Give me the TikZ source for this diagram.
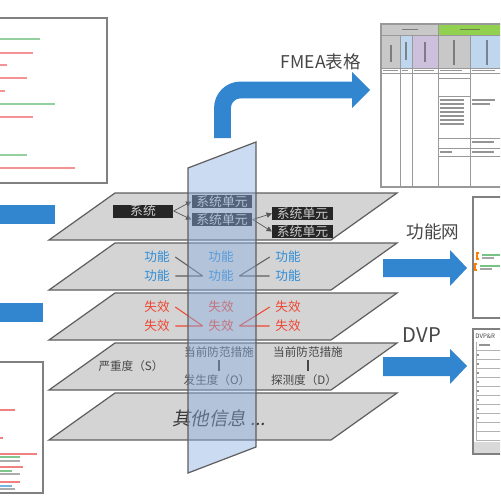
\documentclass[tikz,border=0pt]{standalone}
\usepackage{fontspec}
\setmainfont{Noto Sans CJK SC}
\newfontfamily\slantfont[FakeSlant=0.2]{Noto Sans CJK SC}
\usepackage{tikz}
\usetikzlibrary{arrows.meta}
\usetikzlibrary{positioning}

\definecolor{arrowblue}{RGB}{50,134,208}
\definecolor{layergray}{RGB}{212,212,212}
\definecolor{edgegray}{RGB}{95,95,95}
\definecolor{textgray}{RGB}{70,70,70}
\definecolor{funblue}{RGB}{45,140,215}
\definecolor{failred}{RGB}{238,72,52}
\definecolor{planeblue}{RGB}{140,175,225}
\definecolor{docred}{RGB}{235,60,60}
\definecolor{docgreen}{RGB}{60,170,80}
\definecolor{hdrgray}{RGB}{200,200,200}
\definecolor{hdrgreen}{RGB}{146,208,80}
\definecolor{hdrblue}{RGB}{190,215,238}
\definecolor{hdrpurple}{RGB}{205,192,220}

\tikzset{
  layer/.style={fill=layergray, draw=edgegray, line width=0.7pt},
  docbox/.style={fill=white, draw=gray, line width=0.9pt},
  blockarrow/.style={fill=arrowblue},
  unitbox/.style={fill=black!85, text=white!80!black, font=\fontsize{7.3}{7.3}\selectfont, inner sep=0pt, minimum width=34.5pt, minimum height=7.4pt},
  funtext/.style={text=funblue, font=\fontsize{7.2}{7.2}\selectfont, inner sep=3pt},
  failtext/.style={text=failred, font=\fontsize{7.2}{7.2}\selectfont, inner sep=3pt},
  risktext/.style={text=textgray, font=\fontsize{6.6}{6.6}\selectfont, inner sep=1.5pt},
  biglabel/.style={text=textgray, font=\fontsize{10}{10}\selectfont},
  txtbar/.style={line width=1.3pt, opacity=0.55},
  tinybar/.style={line width=0.8pt, draw=black!70, opacity=0.6},
  tablegrid/.style={draw=gray!80, line width=0.4pt},
}

\begin{document}
\begin{tikzpicture}[x=0.02cm, y=-0.02cm]
\clip (0,0) rectangle (500,500); % 500x500

% 왼쪽 문서
\draw[docbox] (-5,18) rectangle (107,183);
\foreach \y/\l/\c in {39/40/docgreen, 53/33/docred, 65/7/docred, 78/27/docred, 91/5/docred, 104/55/docgreen, 117/33/docred, 155/27/docgreen, 168/75/docred}
  \draw[txtbar, \c] (0,\y) -- (\l,\y);
\draw[docbox] (-5,362) rectangle (43,493);
\foreach \y/\l/\c in {410/15/docred, 438/3/docred, 454/37/docred, 457/20/docgreen, 461/20/gray, 467/23/docred, 471/12/docgreen, 474/20/gray, 482/20/docred, 486/12/funblue, 489/15/gray}
  \draw[\c, line width=0.8pt, opacity=0.65] (0,\y) -- (\l,\y);
\fill[blockarrow] (-2,205) rectangle (55,224);
\fill[blockarrow] (-2,303) rectangle (43,322);

% FMEA 표
\fill[hdrgray] (381,24) rectangle (438,35);
\fill[hdrgreen] (438,24) rectangle (505,35);
\fill[hdrgray] (381,35) rectangle (400,68);
\fill[hdrblue] (400,35) rectangle (412,68);
\fill[hdrpurple] (412,35) rectangle (438,68);
\fill[hdrgray] (438,35) rectangle (470,68);
\fill[hdrblue] (470,35) rectangle (505,68);
\draw[tablegrid, line width=0.8pt] (381,24) rectangle (505,187);
\draw[tablegrid] (438,24) -- (438,35) (381,35) -- (505,35) (381,68) -- (505,68) (381,73) -- (505,73);
\foreach \x in {400,412,438,470}
  \draw[tablegrid] (\x,35) -- (\x,187);
\foreach \y in {78,96,138,148,156}
  \draw[tablegrid] (438,\y) -- (470,\y);
\foreach \y in {138,148,156}
  \draw[tablegrid] (470,\y) -- (505,\y);
\draw[tinybar] (402,29.5) -- (418,29.5) (460,29.5) -- (480,29.5);
\foreach \x/\a/\b in {391/45/62, 406/42/60, 425/42/62, 454/40/65, 487/40/65}
  \draw[tinybar] (\x,\a) -- (\x,\b);
\draw[tinybar] (383,70.5) -- (398,70.5) (402,70.5) -- (408,70.5) (414,70.5) -- (434,70.5) (440,70.5) -- (462,70.5) (472,70.5) -- (495,70.5);
\foreach \y in {100,104,108,112,116,120,124}
  \draw[tinybar] (440,\y) -- (464,\y);
\draw[tinybar] (472,100) -- (495,100) (472,104) -- (490,104) (472,142) -- (494,142) (472,152) -- (494,152) (440,152) -- (452,152);

% 기능망 문서
\draw[docbox] (473,197) rectangle (505,318);
\draw[orange, line width=0.8pt] (479,253) -- (477,253) -- (477,259) -- (479,259);
\draw[orange, line width=0.8pt] (477,264) -- (475,264) -- (475,270) -- (477,270);
\draw[docgreen, line width=0.9pt, opacity=0.7] (482,255) -- (500,255) (480,266) -- (500,266);
\draw[gray, line width=0.6pt, opacity=0.7] (482,258) -- (494,258) (480,269) -- (492,269);

% DVP 문서
\draw[docbox] (473,329) rectangle (505,454);
\node[text=textgray, font=\fontsize{3.5}{3.5}\selectfont, inner sep=0pt, anchor=west] (dvpdoc) at (475,336) {DVP\&R};
\draw[tinybar] (479,345) -- (490,345);
\foreach \y in {350,359,368,377,386,395,404,413,422,431}
  \draw[gray!60, line width=0.4pt] (476,\y) -- (505,\y);
\foreach \y in {355,364,373,382,391,400,409,418}
  \draw[tinybar] (477,\y) -- (479,\y);
\draw[gray!60, line width=0.4pt] (476,342) -- (476,440) -- (505,440);
\fill[gray!30] (474,442) rectangle (505,453);

% 파란 화살표
\draw[arrowblue, line width=9.6pt, rounded corners=0.36cm] (222.5,138) -- (222.5,90) -- (353,90);
\fill[blockarrow] (352,72) -- (370,90) -- (352,108) -- cycle;
\fill[blockarrow] (383,259) -- (450,259) -- (450,250) -- (467,268) -- (450,286) -- (450,277) -- (383,277) -- cycle;
\fill[blockarrow] (383,357) -- (450,357) -- (450,349) -- (467,366) -- (450,384) -- (450,376) -- (383,376) -- cycle;
\node[biglabel] (fmealabel) at (321,62) {FMEA表格};
\node[biglabel] (netlabel) at (433,232) {功能网};
\node[biglabel, font=\fontsize{11.5}{11.5}\selectfont] (dvplabel) at (422,335) {DVP};

% 층
\foreach \t in {193,243,293,343,393}
  \draw[layer] (115,\t) -- (397,\t) -- (331,\t+47) -- (49,\t+47) -- cycle;

% 시스템 층
\node[unitbox] (sys) at (143,211) {系统};
\node[unitbox] (unitA) at (222,201.5) {系统单元};
\node[unitbox] (unitB) at (222,219.5) {系统单元};
\node[unitbox] (unitC) at (302.5,213.5) {系统单元};
\node[unitbox] (unitD) at (302.5,231.5) {系统单元};
\draw[gray!70!black, -{Triangle[length=3pt,width=3pt]}] (sys.east) -- (unitA.west);
\draw[gray!70!black, -{Triangle[length=3pt,width=3pt]}] (sys.east) -- (unitB.west);
\draw[gray!70!black, -{Triangle[length=3pt,width=3pt]}] (unitB.east) -- (unitC.west);
\draw[gray!70!black, -{Triangle[length=3pt,width=3pt]}] (unitB.east) -- (unitD.west);

% 기능 층
\node[funtext] (funL1) at (157,257) {功能};
\node[funtext] (funL2) at (157,276) {功能};
\node[funtext] (funC1) at (221,257) {功能};
\node[funtext] (funC2) at (221,276) {功能};
\node[funtext] (funR1) at (288,257) {功能};
\node[funtext] (funR2) at (288,276) {功能};
\draw[edgegray, line width=0.6pt] (funL1.east) -- (funC2.west) (funL2.east) -- (funC2.west);
\draw[edgegray, line width=0.6pt] (funR1.west) -- (funC2.east) (funR2.west) -- (funC2.east);

% 고장 층
\node[failtext] (failL1) at (157,307) {失效};
\node[failtext] (failL2) at (157,326) {失效};
\node[failtext] (failC1) at (221,307) {失效};
\node[failtext] (failC2) at (221,326) {失效};
\node[failtext] (failR1) at (288,307) {失效};
\node[failtext] (failR2) at (288,326) {失效};
\draw[failred, line width=0.6pt] (failL1.east) -- (failC2.west) (failL2.east) -- (failC2.west);
\draw[failred, line width=0.6pt] (failR1.west) -- (failC2.east) (failR2.west) -- (failC2.east);

% 위험 층
\node[risktext] (sev) at (131,366) {严重度（S）};
\node[risktext] (ctlA) at (219,352) {当前防范措施};
\node[risktext] (occ) at (217,380) {发生度（O）};
\node[risktext] (ctlB) at (308,352) {当前防范措施};
\node[risktext] (det) at (304,380) {探测度（D）};
\draw[textgray, line width=0.6pt] (ctlA.south) -- (ctlA.south |- occ.north);
\draw[textgray, line width=0.6pt] (ctlB.south) -- (ctlB.south |- det.north);

\node[text=textgray!80!black, font=\slantfont\fontsize{10.5}{10.5}\selectfont] (other) at (219,418) {其他信息 ...};

% 세로 평면
\draw[fill=planeblue, fill opacity=0.45, draw=edgegray, line width=0.7pt] (188,168) -- (256,142) -- (256,447) -- (188,473) -- cycle;
\end{tikzpicture}
\end{document}
